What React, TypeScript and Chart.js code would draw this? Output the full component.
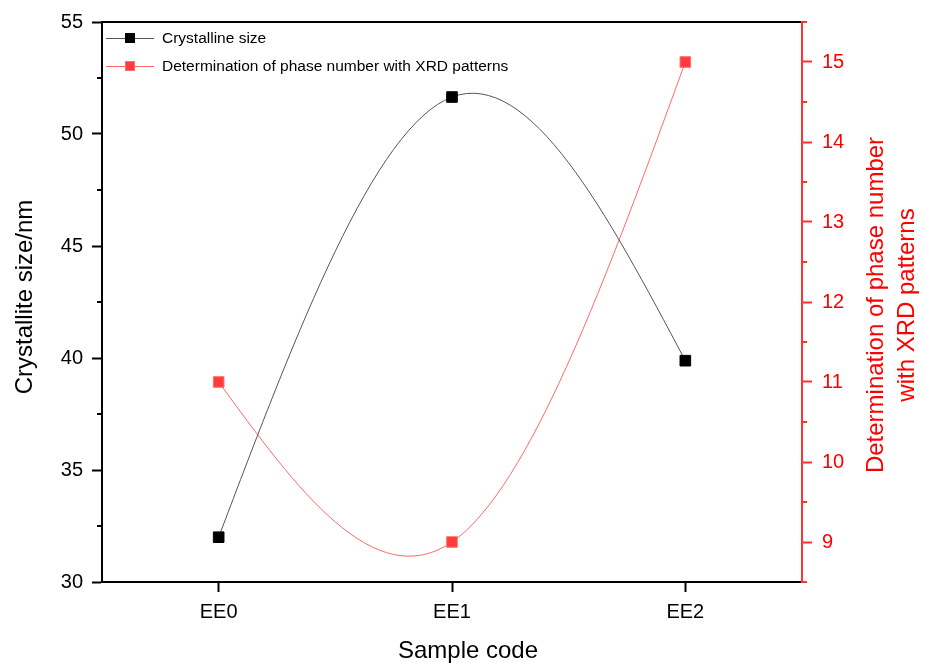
import React, { useEffect, useRef } from "react";
import { Chart, registerables } from "chart.js";
Chart.register(...registerables);

const categories = ["EE0", "EE1", "EE2"];
const crystalliteSize = [32.0, 51.65, 39.88];
const phaseNumber = [11, 9, 15];
const leftTicks = [30, 35, 40, 45, 50, 55];
const leftMinorTicks = [32.5, 37.5, 42.5, 47.5, 52.5];
const rightTicks = [9, 10, 11, 12, 13, 14, 15];
const rightMinorTicks = [8.5, 9.5, 10.5, 11.5, 12.5, 13.5, 14.5, 15.5];
const leftTitle = "Crystallite size/nm";
const rightTitleLines = ["Determination of phase number", "with XRD patterns"];
const bottomTitle = "Sample code";
const seriesNames = ["Crystalline size", "Determination of phase number with XRD patterns"];

const FONT = "'Liberation Sans', Arial, Helvetica, sans-serif";
const RED = "#ff3333";
const RED_TEXT = "#ff0000";

// Replace Chart.js bezier control points with those of a natural cubic spline
// through the point elements' pixel positions (computed by the scales).
const naturalSplinePlugin = {
  id: "naturalSpline",
  beforeDatasetsDraw(chart: any) {
    chart.data.datasets.forEach((_: any, di: number) => {
      const meta = chart.getDatasetMeta(di);
      const line = meta.dataset;
      const pts = meta.data;
      const n = pts.length;
      if (!line || n < 3) return;
      const xs = pts.map((p: any) => p.x);
      const ys = pts.map((p: any) => p.y);
      const h: number[] = [];
      for (let i = 0; i < n - 1; i++) h.push(xs[i + 1] - xs[i]);
      // tridiagonal system for second derivatives, M0 = Mn-1 = 0
      const M = new Array(n).fill(0);
      const a: number[] = [], b: number[] = [], c: number[] = [], d: number[] = [];
      for (let i = 1; i < n - 1; i++) {
        a.push(h[i - 1]);
        b.push(2 * (h[i - 1] + h[i]));
        c.push(h[i]);
        d.push(6 * ((ys[i + 1] - ys[i]) / h[i] - (ys[i] - ys[i - 1]) / h[i - 1]));
      }
      const m = b.length;
      for (let i = 1; i < m; i++) {
        const w = a[i] / b[i - 1];
        b[i] -= w * c[i - 1];
        d[i] -= w * d[i - 1];
      }
      const sol = new Array(m).fill(0);
      for (let i = m - 1; i >= 0; i--) {
        sol[i] = (d[i] - (i < m - 1 ? c[i] * sol[i + 1] : 0)) / b[i];
      }
      for (let i = 0; i < m; i++) M[i + 1] = sol[i];
      for (let i = 0; i < n - 1; i++) {
        const hi = h[i];
        const sl = (ys[i + 1] - ys[i]) / hi - (hi * (2 * M[i] + M[i + 1])) / 6;
        const sr = (ys[i + 1] - ys[i]) / hi + (hi * (M[i] + 2 * M[i + 1])) / 6;
        pts[i].cp2x = xs[i] + hi / 3;
        pts[i].cp2y = ys[i] + (sl * hi) / 3;
        pts[i + 1].cp1x = xs[i + 1] - hi / 3;
        pts[i + 1].cp1y = ys[i + 1] - (sr * hi) / 3;
      }
      pts[0].cp1x = xs[0];
      pts[0].cp1y = ys[0];
      pts[n - 1].cp2x = xs[n - 1];
      pts[n - 1].cp2y = ys[n - 1];
      line._pointsUpdated = true;
      delete line._path;
    });
  },
};

const decorPlugin = {
  id: "decor",
  afterDraw(chart: any) {
    const ctx = chart.ctx as CanvasRenderingContext2D;
    const ca = chart.chartArea;
    const yL = chart.scales.y;
    const yR = chart.scales.y1;
    ctx.save();
    // minor ticks
    ctx.lineWidth = 2;
    ctx.strokeStyle = "#000";
    leftMinorTicks.forEach((v) => {
      const p = Math.round(yL.getPixelForValue(v));
      ctx.beginPath();
      ctx.moveTo(ca.left, p);
      ctx.lineTo(ca.left - 5, p);
      ctx.stroke();
    });
    ctx.strokeStyle = RED;
    rightMinorTicks.forEach((v) => {
      const p = Math.round(yR.getPixelForValue(v));
      ctx.beginPath();
      ctx.moveTo(ca.right, p);
      ctx.lineTo(ca.right + 5, p);
      ctx.stroke();
    });

    // titles
    const midY = (ca.top + ca.bottom) / 2;
    ctx.font = `24px ${FONT}`;
    ctx.textAlign = "center";
    ctx.textBaseline = "middle";
    ctx.fillStyle = "#000";
    ctx.save();
    ctx.translate(25, midY - 5);
    ctx.rotate(-Math.PI / 2);
    ctx.fillText(leftTitle, 0, 0);
    ctx.restore();

    ctx.fillText(bottomTitle, (ca.left + ca.right) / 2 + 16, 651);

    ctx.fillStyle = RED_TEXT;
    rightTitleLines.forEach((line, i) => {
      ctx.save();
      ctx.translate(876 + i * 31, midY + 3);
      ctx.rotate(-Math.PI / 2);
      ctx.fillText(line, 0, 0);
      ctx.restore();
    });

    // legend
    const items = [
      { label: seriesNames[0], line: "#555", fill: "#000", border: "#000", y: ca.top + 16 },
      { label: seriesNames[1], line: "#ff6a6a", fill: "#ff3b3b", border: "#ff7070", y: ca.top + 44 },
    ];
    ctx.font = `15.5px ${FONT}`;
    ctx.textAlign = "left";
    items.forEach((it) => {
      const x0 = ca.left + 4;
      ctx.strokeStyle = it.line;
      ctx.lineWidth = 1;
      ctx.beginPath();
      ctx.moveTo(x0, it.y + 0.5);
      ctx.lineTo(x0 + 48, it.y + 0.5);
      ctx.stroke();
      ctx.fillStyle = it.fill;
      ctx.fillRect(x0 + 19, it.y - 5, 10, 10);
      ctx.strokeStyle = it.border;
      ctx.strokeRect(x0 + 19.5, it.y - 4.5, 9, 9);
      ctx.fillStyle = "#000";
      ctx.fillText(it.label, x0 + 56, it.y + 1);
    });
    ctx.restore();
  },
};

export default function App() {
  const ref = useRef<HTMLCanvasElement | null>(null);
  useEffect(() => {
    if (!ref.current) return;
    const chart = new Chart(ref.current, {
      type: "line",
      data: {
        labels: categories,
        datasets: [
          {
            label: seriesNames[0],
            data: crystalliteSize,
            yAxisID: "y",
            borderColor: "#555",
            borderWidth: 1,
            backgroundColor: "#000",
            pointBackgroundColor: "#000",
            pointBorderColor: "#000",
            pointBorderWidth: 1,
            pointStyle: "rect",
            pointRadius: 7.5,
            tension: 0.4,
            fill: false,
          },
          {
            label: seriesNames[1],
            data: phaseNumber,
            yAxisID: "y1",
            borderColor: "#ff6a6a",
            borderWidth: 1,
            backgroundColor: "#ff3b3b",
            pointBackgroundColor: "#ff3b3b",
            pointBorderColor: "#ff7070",
            pointBorderWidth: 1,
            pointStyle: "rect",
            pointRadius: 7.5,
            tension: 0.4,
            fill: false,
          },
        ],
      },
      options: {
        responsive: false,
        animation: false,
        devicePixelRatio: 1,
        layout: { padding: 0 },
        plugins: { legend: { display: false }, tooltip: { enabled: false } },
        scales: {
          x: {
            type: "category",
            position: "bottom",
            offset: true,
            grid: { display: true, drawOnChartArea: false, offset: false, tickLength: 10, tickWidth: 2, tickColor: "#000" },
            border: { display: true, color: "#000", width: 2 },
            ticks: { color: "#000", font: { family: FONT, size: 20 }, padding: 8, maxRotation: 0 },
            afterFit: (s: any) => { s.height = 81; },
          },
          xTop: {
            type: "category",
            position: "top",
            offset: true,
            grid: { display: false },
            border: { display: true, color: "#000", width: 2 },
            ticks: { display: false },
            afterFit: (s: any) => { s.height = 19; },
          },
          y: {
            type: "linear",
            position: "left",
            min: 30,
            max: 55,
            grid: { display: true, drawOnChartArea: false, tickLength: 10, tickWidth: 2, tickColor: "#000" },
            border: { display: true, color: "#000", width: 2 },
            ticks: { color: "#000", font: { family: FONT, size: 20 }, padding: 9 },
            afterBuildTicks: (s: any) => { s.ticks = leftTicks.map((v) => ({ value: v })); },
            afterFit: (s: any) => { s.width = 102; },
          },
          y1: {
            type: "linear",
            position: "right",
            min: 8.5,
            max: 15.5,
            grid: { display: true, drawOnChartArea: false, tickLength: 10, tickWidth: 2, tickColor: RED },
            border: { display: true, color: RED, width: 2 },
            ticks: { color: RED_TEXT, font: { family: FONT, size: 20 }, padding: 10 },
            afterBuildTicks: (s: any) => { s.ticks = rightTicks.map((v) => ({ value: v })); },
            afterFit: (s: any) => { s.width = 124; },
          },
        },
      } as any,
      plugins: [naturalSplinePlugin, decorPlugin],
    });
    return () => chart.destroy();
  }, []);
  return (
    <div style={{ position: "absolute", left: 0, top: 0, width: 926, height: 663, background: "#fff" }}>
      <canvas ref={ref} width={926} height={663} />
    </div>
  );
}
